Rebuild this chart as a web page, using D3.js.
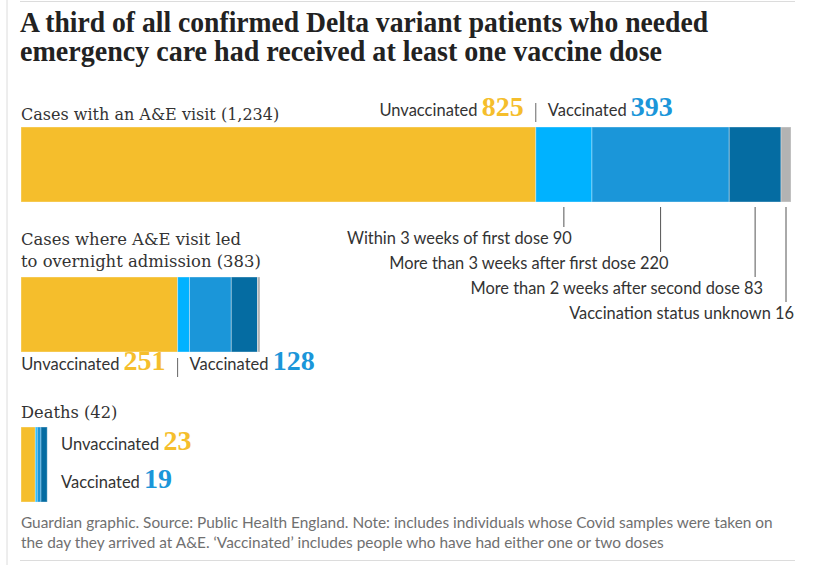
<!DOCTYPE html>
<html>
<head>
<meta charset="utf-8">
<script src="https://cdn.jsdelivr.net/npm/d3@7"></script>
<style>
  body { margin: 0; background: #fff; }
  svg { display: block; }
</style>
</head>
<body>
<svg></svg>
<script>
let width = 828;
let height = 565;

let groupTitles = [
    ["Cases with an A&E visit (1,234)"],
    ["Cases where A&E visit led", "to overnight admission (383)"],
    ["Deaths (42)"]
];
let totals = [1234, 383, 42];
let unvaccinated = [825, 251, 23];
let within3wFirst = [90, 19, 3];
let over3wFirst = [220, 67, 6];
let over2wSecond = [83, 42, 10];
let statusUnknown = [16, 4, 0];
let statusLabels = [
    "Within 3 weeks of first dose",
    "More than 3 weeks after first dose",
    "More than 2 weeks after second dose",
    "Vaccination status unknown"
];
let keys = ["unvaccinated", "within3wFirst", "over3wFirst", "over2wSecond", "statusUnknown"];
let colors = ["#f5be2c", "#00b2ff", "#1b96d9", "#056ca2", "#b3b3b3"];

let rows = totals.map((t, i) => ({
    total: t,
    unvaccinated: unvaccinated[i],
    within3wFirst: within3wFirst[i],
    over3wFirst: over3wFirst[i],
    over2wSecond: over2wSecond[i],
    statusUnknown: statusUnknown[i],
    vaccinated: within3wFirst[i] + over3wFirst[i] + over2wSecond[i]
}));

let xScale = d3.scaleLinear()
    .domain([0, d3.max(totals)])
    .range([21, 791]);

let yScale = d3.scaleOrdinal()
    .domain([0, 1, 2])
    .range([127, 277, 427]);

let barHeight = 75;
let colorScale = d3.scaleOrdinal().domain(keys).range(colors);

let stack = d3.stack().keys(keys);
let series = stack(rows);

let serif = "'DejaVu Serif', serif";
let bold = "'Liberation Serif', serif";
let sans = "Lato, 'Open Sans', sans-serif";

let svg = d3.select("svg")
    .attr("width", width)
    .attr("height", height);

// frame rules
svg.append("line")
    .attr("x1", 7).attr("x2", 7).attr("y1", 0).attr("y2", height)
    .attr("stroke", "#dcdcdc");
svg.append("line")
    .attr("x1", 20).attr("x2", 795).attr("y1", 1.5).attr("y2", 1.5)
    .attr("stroke", "#dcdcdc");
svg.append("line")
    .attr("x1", 20).attr("x2", 795).attr("y1", 560.5).attr("y2", 560.5)
    .attr("stroke", "#dcdcdc");

// headline
let headline = ["A third of all confirmed Delta variant patients who needed",
    "emergency care had received at least one vaccine dose"];
let headlineWidths = [688, 642];
svg.selectAll(".headline")
    .data(headline)
    .enter()
    .append("text")
    .attr("class", "headline")
    .attr("x", 20)
    .attr("y", (d, i) => 32 + i * 29)
    .attr("textLength", (d, i) => headlineWidths[i])
    .attr("lengthAdjust", "spacingAndGlyphs")
    .style("font-family", bold)
    .style("font-weight", "bold")
    .style("font-size", "29px")
    .style("fill", "#222")
    .text(d => d);

// group titles
let titleBaselines = [[120], [245, 267], [418]];
let titleSizes = ["16px", "16.4px", "16.3px"];
groupTitles.forEach((lines, i) => {
    svg.selectAll(".gt" + i)
        .data(lines)
        .enter()
        .append("text")
        .attr("x", 21)
        .attr("y", (d, j) => titleBaselines[i][j])
        .style("font-family", serif)
        .style("font-size", titleSizes[i])
        .style("fill", "#333")
        .text(d => d);
});

// stacked bars
svg.selectAll("g.layer")
    .data(series)
    .enter()
    .append("g")
    .attr("class", "layer")
    .attr("fill", d => colorScale(d.key))
    .selectAll("rect")
    .data(d => d)
    .enter()
    .append("rect")
    .attr("x", d => xScale(d[0]))
    .attr("y", (d, i) => yScale(i))
    .attr("width", d => xScale(d[1]) - xScale(d[0]))
    .attr("height", barHeight)
    .attr("stroke", "rgba(255,255,255,0.35)")
    .attr("stroke-width", 1);

// unvaccinated / vaccinated labels for bars 1 and 2
function splitLabel(i, baseline, sepTop, sepBottom) {
    let xs = xScale(rows[i].unvaccinated);
    let g = svg.append("g");
    let left = g.append("text")
        .attr("x", xs - 12)
        .attr("y", baseline)
        .attr("text-anchor", "end")
        .style("font-family", sans)
        .style("font-size", "16.5px")
        .style("fill", "#333");
    left.append("tspan").text("Unvaccinated ");
    left.append("tspan")
        .style("font-family", bold)
        .style("font-weight", "bold")
        .style("font-size", "28px")
        .style("fill", colors[0])
        .text(rows[i].unvaccinated);

    g.append("line")
        .attr("x1", xs).attr("x2", xs)
        .attr("y1", sepTop).attr("y2", sepBottom)
        .attr("stroke", "#666");

    let right = g.append("text")
        .attr("x", xs + 12)
        .attr("y", baseline)
        .style("font-family", sans)
        .style("font-size", "16.5px")
        .style("fill", "#333");
    right.append("tspan").text("Vaccinated ");
    right.append("tspan")
        .style("font-family", bold)
        .style("font-weight", "bold")
        .style("font-size", "28px")
        .style("fill", colors[2])
        .text(rows[i].vaccinated);
}
splitLabel(0, 116, 103, 122);
splitLabel(1, 370, 358, 377);

// deaths labels
let deathLabels = [
    {label: "Unvaccinated ", value: rows[2].unvaccinated, color: colors[0], y: 450},
    {label: "Vaccinated ", value: rows[2].vaccinated, color: colors[2], y: 488}
];
deathLabels.forEach(d => {
    let t = svg.append("text")
        .attr("x", 61)
        .attr("y", d.y)
        .style("font-family", sans)
        .style("font-size", "16.5px")
        .style("fill", "#333");
    t.append("tspan").text(d.label);
    t.append("tspan")
        .style("font-family", bold)
        .style("font-weight", "bold")
        .style("font-size", "28px")
        .style("fill", d.color)
        .text(d.value);
});

// breakdown callouts under the first bar
let vaccSeries = series.slice(1);
let barBottom = yScale(0) + barHeight;
vaccSeries.forEach((s, k) => {
    let seg = s[0];
    let cx = (xScale(seg[0]) + xScale(seg[1])) / 2;
    svg.append("line")
        .attr("x1", cx).attr("x2", cx)
        .attr("y1", barBottom + 5)
        .attr("y2", barBottom + 25 + k * 25)
        .attr("stroke", "#555");
    svg.append("text")
        .attr("x", cx + 8)
        .attr("y", barBottom + 42 + k * 25)
        .attr("text-anchor", "end")
        .style("font-family", sans)
        .style("font-size", "16.4px")
        .style("fill", "#333")
        .text(statusLabels[k] + " " + (seg[1] - seg[0]));
});

// footer
let notes = [
    "Guardian graphic. Source: Public Health England. Note: includes individuals whose Covid samples were taken on",
    "the day they arrived at A&E. \u2018Vaccinated\u2019 includes people who have had either one or two doses"
];
svg.selectAll(".note")
    .data(notes)
    .enter()
    .append("text")
    .attr("class", "note")
    .attr("x", 21)
    .attr("y", (d, i) => 528 + i * 20)
    .style("font-family", sans)
    .style("font-size", "15.4px")
    .style("fill", "#707070")
    .text(d => d);
</script>
</body>
</html>
